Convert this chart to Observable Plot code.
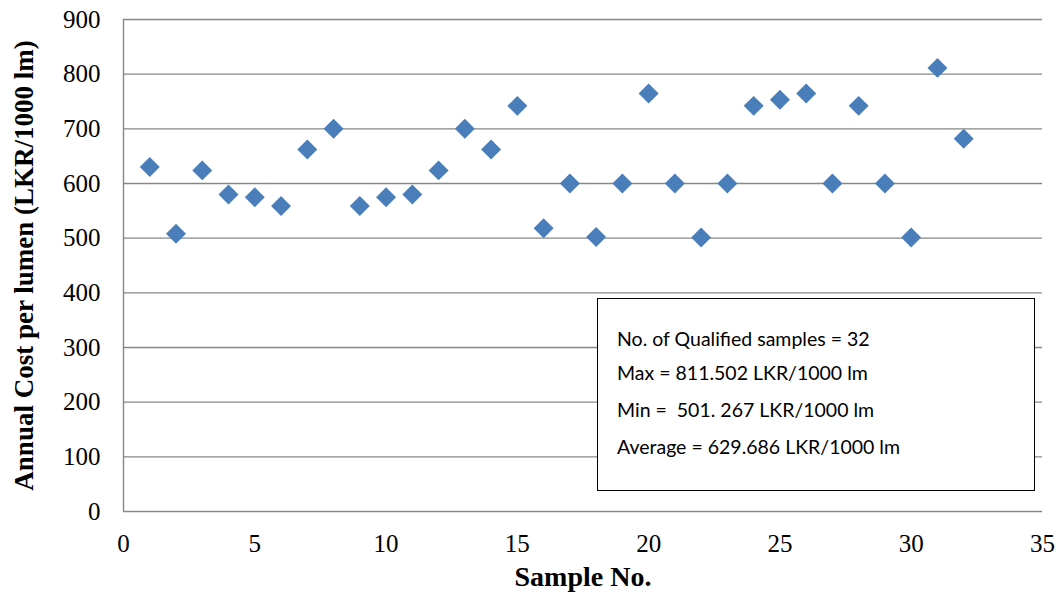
<!DOCTYPE html>
<html>
<head>
<meta charset="utf-8">
<script src="https://cdn.jsdelivr.net/npm/d3@7"></script>
<script src="https://cdn.jsdelivr.net/npm/@observablehq/plot@0.6"></script>
<style>
  html, body { margin: 0; padding: 0; background: #fff; }
  #wrap { position: relative; width: 1063px; height: 599px; }
  #note {
    position: absolute; left: 597px; top: 298px; width: 436px; height: 191px;
    border: 1.5px solid #000; background: #fff; box-sizing: content-box;
    font-family: Lato, "Open Sans", sans-serif; font-size: 19.5px; color: #000;
  }
  #note div { position: absolute; left: 19px; white-space: pre; line-height: 1; }
</style>
</head>
<body>
<div id="wrap"></div>
<script>
const sampleNo = [1,2,3,4,5,6,7,8,9,10,11,12,13,14,15,16,17,18,19,20,21,22,23,24,25,26,27,28,29,30,31,32];
const annualCost = [630,508,624,580,575,559,662,700,559,575,580,624,700,662,742,518,600,502,600,764.5,600,501.3,600,742,753,764.5,600,742,600,501.3,811.5,682];
const xTicks = [0,5,10,15,20,25,30,35];
const yTicks = [0,100,200,300,400,500,600,700,800,900];
const xTitle = "Sample No.";
const yTitle = "Annual Cost per lumen (LKR/1000 lm)";
const noteLines = [
  "No. of Qualified samples = 32",
  "Max = 811.502 LKR/1000 lm",
  "Min =  501. 267 LKR/1000 lm",
  "Average = 629.686 LKR/1000 lm"
];

const data = sampleNo.map((s, i) => ({sample: s, cost: annualCost[i]}));

const chart = Plot.plot({
  width: 1063,
  height: 599,
  marginLeft: 123,
  marginRight: 21,
  marginTop: 19,
  marginBottom: 88,
  style: {fontFamily: "'Liberation Serif', 'Times New Roman', serif", fontSize: "25px", background: "#fff"},
  x: {domain: [0, 35]},
  y: {domain: [0, 900]},
  marks: [
    Plot.ruleY(yTicks, {stroke: "#878787", strokeWidth: 1.4}),
    Plot.ruleX([0], {stroke: "#878787", strokeWidth: 1.4}),
    Plot.axisX({ticks: xTicks, tickSize: 0, tickPadding: 23, label: null, tickFormat: d => String(d)}),
    Plot.axisY({ticks: yTicks, tickSize: 0, tickPadding: 23, label: null, tickFormat: d => String(d)}),
    Plot.dot(data, {x: "sample", y: "cost", symbol: "diamond2", r: 9, fill: "#4a7ebb", stroke: "none"}),
    Plot.text([xTitle], {frameAnchor: "bottom", lineAnchor: "middle", textAnchor: "middle", dy: 66, fontSize: 28, fontWeight: "bold", fill: "#000"}),
    Plot.text([yTitle], {frameAnchor: "left", lineAnchor: "middle", textAnchor: "middle", dx: -99, rotate: -90, fontSize: 27, fontWeight: "bold", fill: "#000"})
  ]
});

const wrap = document.getElementById("wrap");
wrap.appendChild(chart);
const note = document.createElement("div");
note.id = "note";
const tops = [40, 74, 111, 148];
noteLines.forEach((t, i) => {
  const d = document.createElement("div");
  d.textContent = t;
  d.style.top = (tops[i] - 10) + "px";
  note.appendChild(d);
});
wrap.appendChild(note);
</script>
</body>
</html>
